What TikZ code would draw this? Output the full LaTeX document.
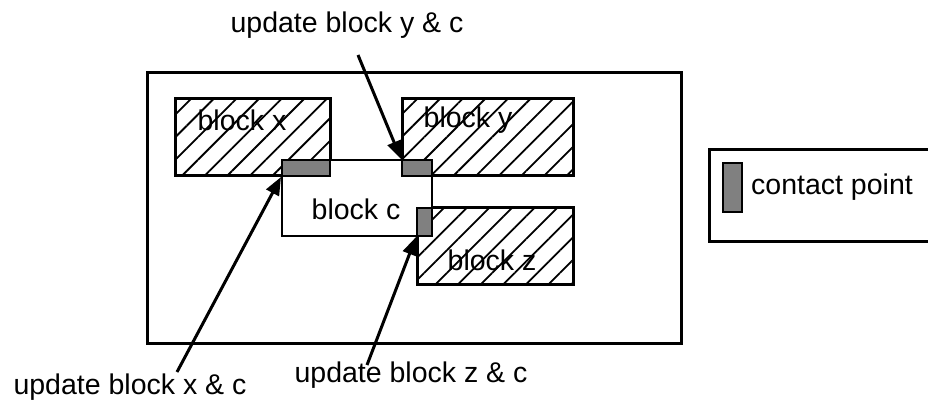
\documentclass[tikz,border=0pt]{standalone}
\usepackage{fontspec}
\setmainfont{Liberation Sans}
\usetikzlibrary{arrows.meta, patterns.meta, positioning}
\tikzstyle{arrow} = [line width=3pt,-{Triangle[length=18pt,width=14pt]}]
\tikzstyle{block} = [rectangle, draw=black, line width=3pt, pattern={Lines[angle=45,distance=16pt,line width=1.8pt]}]
\tikzstyle{blockc} = [rectangle, draw=black, line width=2pt, fill=white]
\tikzstyle{contact} = [rectangle, draw=black, line width=2pt, fill=black!50]
\tikzstyle{tag} = [font=\fontsize{28.5}{32}\selectfont, inner sep=0pt]

\begin{document}
\begin{tikzpicture}[x=1pt, y=-1pt]
\useasboundingbox (0,0) rectangle (928,403);
\clip (0,0) rectangle (928,403);

% Frame
\node (frame) [rectangle, draw, line width=3pt, minimum width=534pt, minimum height=270pt] at (414,208) {};

% Blocks
\node (bx) [block, minimum width=155pt, minimum height=77pt] at (252.5,137.5) {};
\node (by) [block, minimum width=171pt, minimum height=77pt] at (487.5,137.5) {};
\node (bz) [block, minimum width=156pt, minimum height=76pt] at (495,246) {};
\node (bc) [blockc, minimum width=150pt, minimum height=76pt] at (357,198) {};

% Contact points
\node (cx) [contact, minimum width=48pt, minimum height=16pt] at (306,168) {};
\node (cy) [contact, minimum width=30pt, minimum height=16pt] at (417,168) {};
\node (cz) [contact, minimum width=15pt, minimum height=28pt] at (424.5,222) {};

% Block names
\node (nx) [tag] at (242,120) {block x};
\node (ny) [tag] at (468,120) {block y};
\node (nz) [tag] at (492,260) {block z};
\node (nc) [tag] at (356,209) {block c};

% Legend
\node (legend) [rectangle, draw, line width=3pt, minimum width=240pt, minimum height=92pt, anchor=north west] at (708,148) {};
\node (swatch) [contact, minimum width=19pt, minimum height=49pt] at (732.5,187.5) {};
\node (cp) [tag, right=8pt of swatch] {contact point};

% Labels
\node (ly) [tag, anchor=base] at (347,33) {update block y \& c};
\node (lx) [tag, anchor=base] at (130,394) {update block x \& c};
\node (lz) [tag, anchor=base] at (411,382) {update block z \& c};

% Arrows
\coordinate (ty) at (358,55);
\coordinate (tx) at (177,372);
\coordinate (tz) at (367,365);
\draw [arrow] (ty) -- (cy.north west);
\draw [arrow] (tx) -- (cx.south west);
\draw [arrow] (tz) -- (cz.south west);

\end{tikzpicture}
\end{document}
